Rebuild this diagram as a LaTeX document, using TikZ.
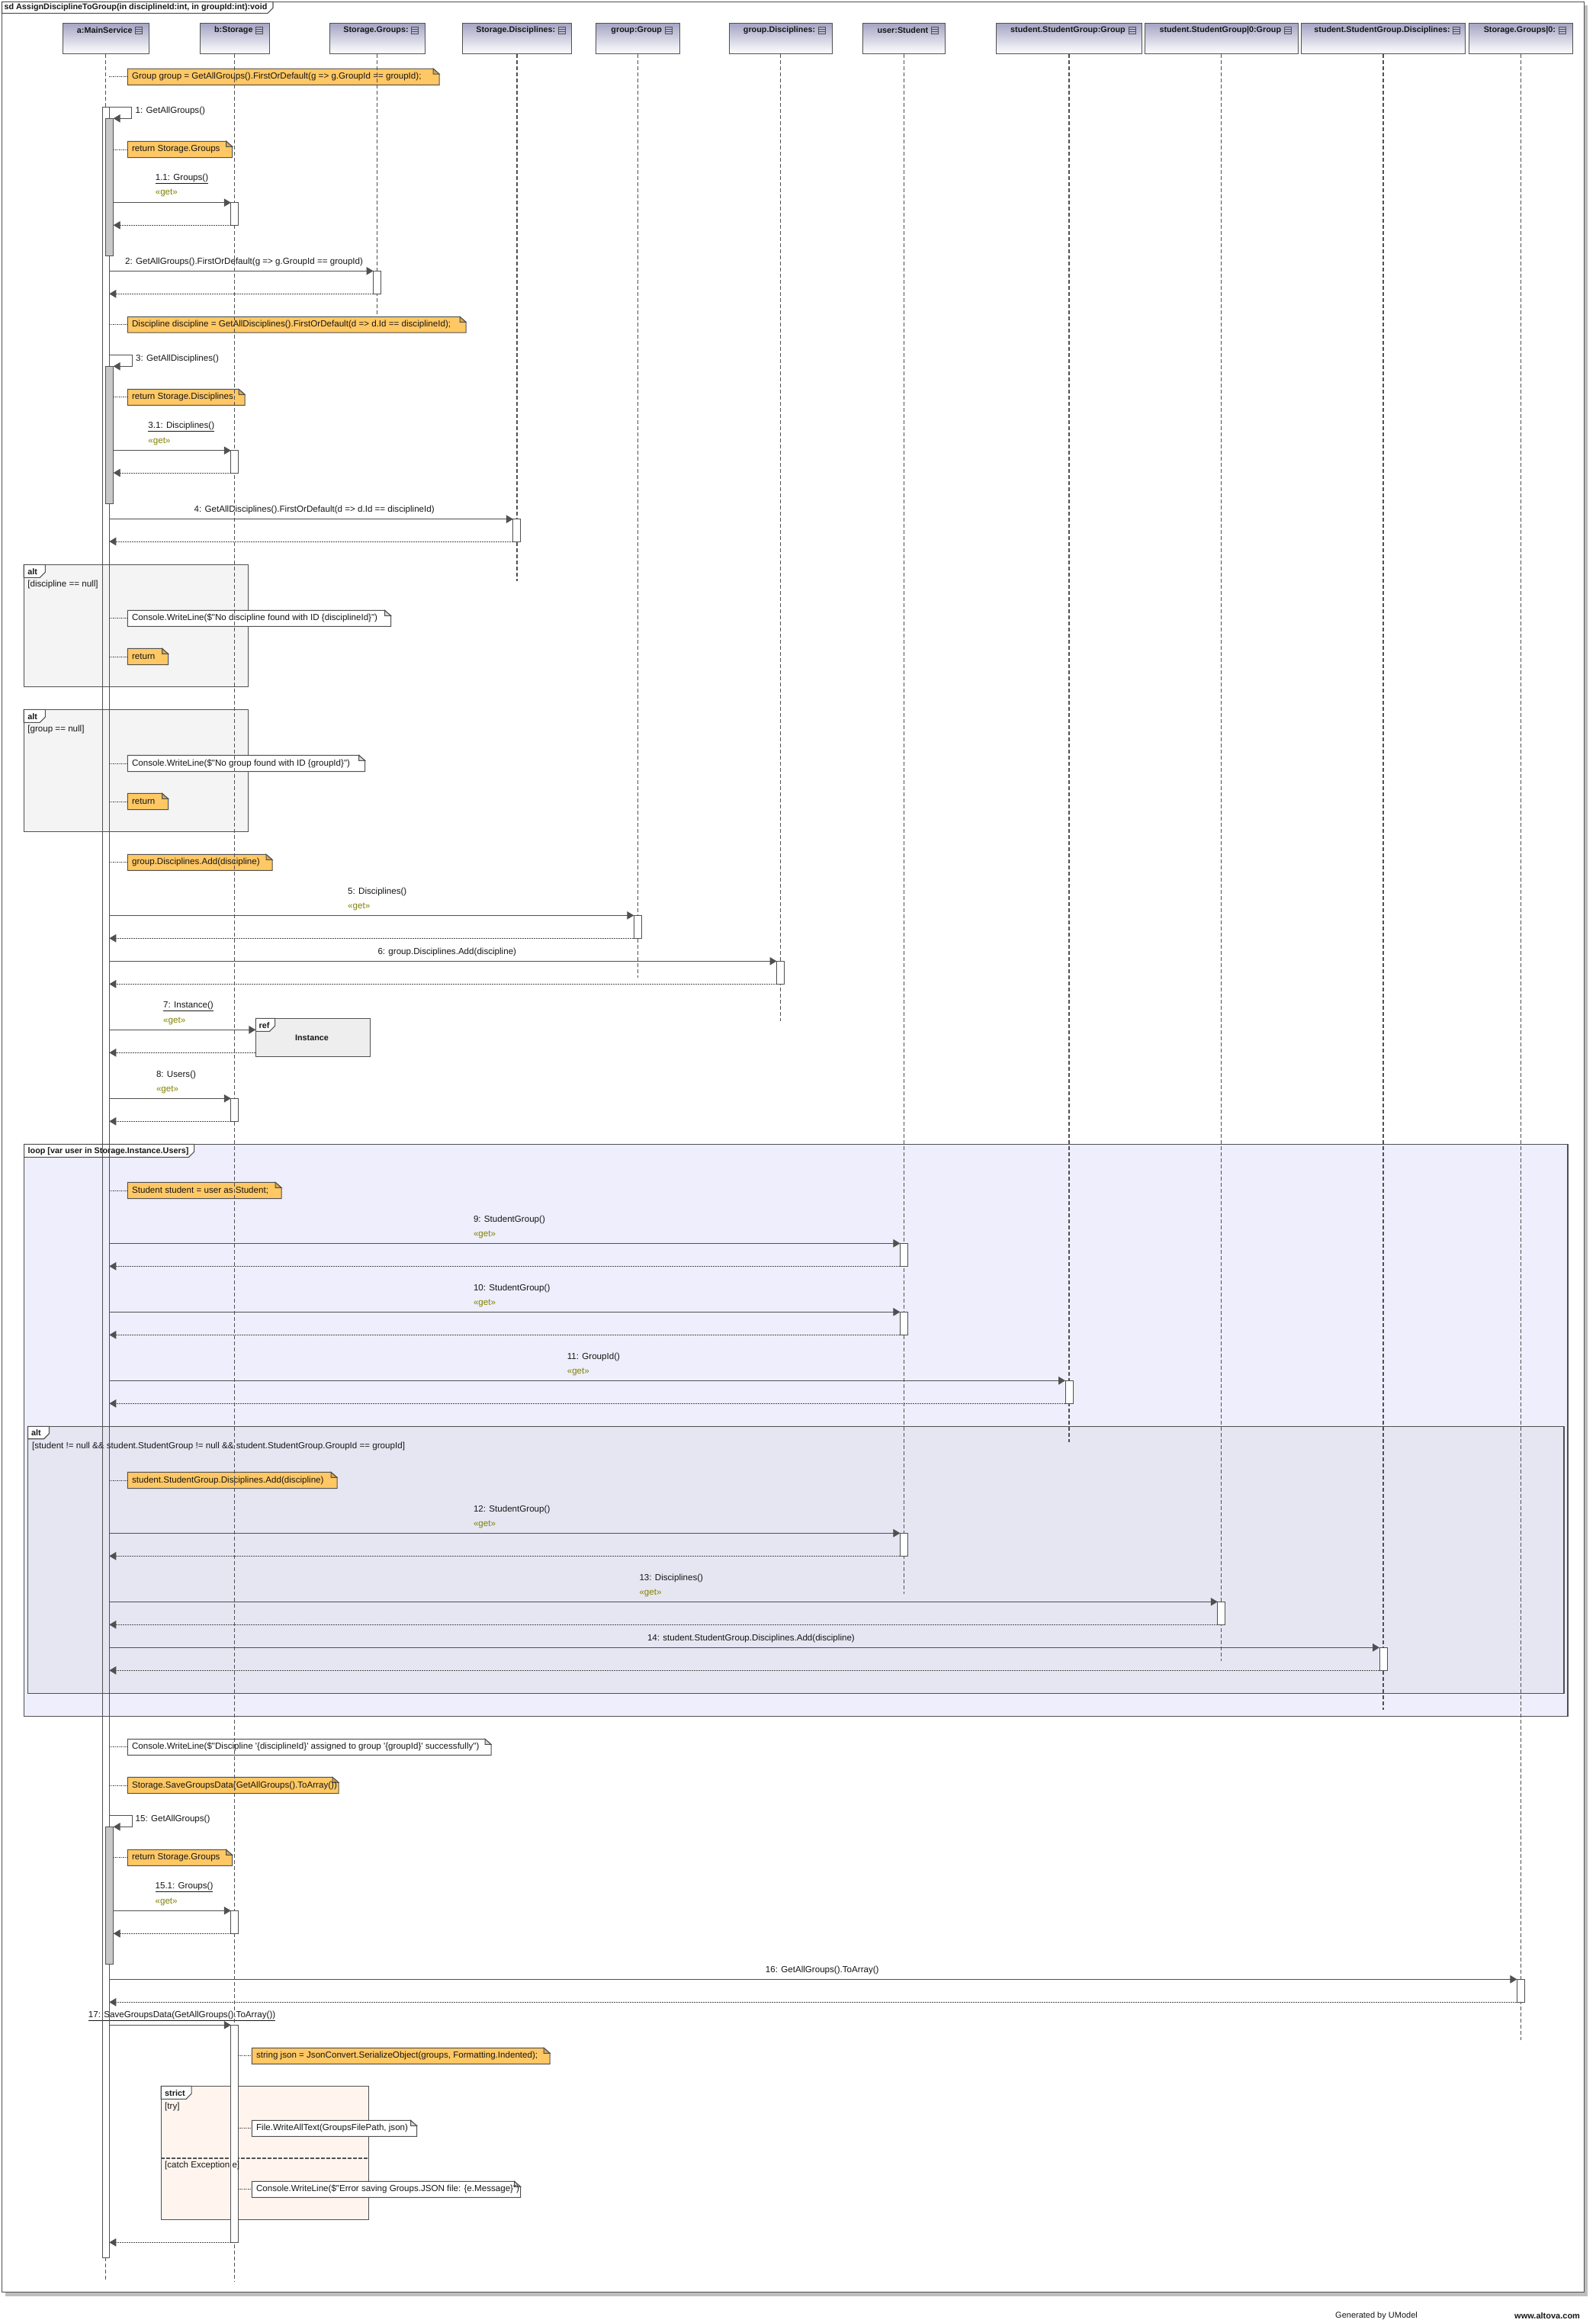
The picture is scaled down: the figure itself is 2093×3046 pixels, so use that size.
\documentclass[tikz,border=0pt]{standalone}
\usepackage{fontspec}
\setmainfont{Liberation Sans}[Ligatures=TeXOff]
\usetikzlibrary{arrows.meta}

\definecolor{ink}{HTML}{505050}
\definecolor{txt}{HTML}{161616}
\definecolor{notefill}{HTML}{FFC864}
\definecolor{notefold}{HTML}{D8A850}
\definecolor{wnotefold}{HTML}{DADADA}
\definecolor{altfill}{HTML}{F4F4F4}
\definecolor{loopfill}{HTML}{EEEEFC}
\definecolor{innerfill}{HTML}{E6E6F3}
\definecolor{reffill}{HTML}{EEEEEE}
\definecolor{strictfill}{HTML}{FFF5EE}
\definecolor{hdrtop}{HTML}{A4A4C4}
\definecolor{barfill}{HTML}{C8C8C8}
\definecolor{getcol}{HTML}{808000}
\definecolor{shadowc}{HTML}{BEBEBE}

% activation box: name, x0, x1, y0, y1
\newcommand{\actbox}[5]{%
  \coordinate (#1-nw) at (#2,#4);
  \coordinate (#1-se) at (#3,#5);
  \filldraw[actline] (#1-nw) rectangle (#1-se);}
% call from the caller edge #1 to activation #2, with its reply
\newcommand{\callret}[2]{%
  \draw[msg] (#1 |- #2-nw) -- (#2-nw);
  \draw[ret] (#2-nw |- #2-se) -- (#1 |- #2-se);}
% self call: name, top y, right x, bottom y
\newcommand{\selfcall}[4]{%
  \coordinate (#1-a) at (143.3,#2);
  \coordinate (#1-b) at (#3,#4);
  \coordinate (#1-c) at (148.7,#4);
  \draw[msg] (#1-a) -| (#1-b) -- (#1-c);}
% note: name, x0, y0, x1, y1, fill, fold fill, text
\newcommand{\seqnote}[8]{%
  \coordinate (#1-w) at (#2,{(#3+#5)/2});
  \filldraw[noteline, fill=#6] (#2,#3) -- ({#4-8},#3) -- (#4,{#3+7}) -- (#4,#5) -- (#2,#5) -- cycle;
  \filldraw[noteline, fill=#7] ({#4-8},#3) -- ({#4-8},{#3+7}) -- (#4,{#3+7}) -- cycle;
  \node[lbl] (#1) at ({#2+5.5},{(#3+#5)/2}) {#8};}
% combined fragment: name, x0, y0, x1, y1, fill, tab right, tab bottom
\newcommand{\fragment}[8]{%
  \coordinate (#1-nw) at (#2,#3);
  \coordinate (#1-se) at (#4,#5);
  \filldraw[frameline, fill=#6] (#1-nw) rectangle (#1-se);
  \filldraw[frameline, fill=white] (#2,#3) -- (#7,#3) -- (#7,{#8-7}) -- ({#7-7},#8) -- (#2,#8) -- cycle;}
% lifeline head: name, centre x, width, end y, text
\newcommand{\lifehead}[5]{%
  \node[hdr, minimum width=#3pt] (h#1) at (#2,50.3) {};
  \node[hdrtext] (t#1) at ({#2-1.5},39.5) {#5};
  \draw[iconline] ([xshift=4pt,yshift=4.5pt]t#1.east) rectangle ++(9,9);
  \draw[iconline] ([xshift=4pt,yshift=1.5pt]t#1.east) -- ++(9,0);
  \draw[iconline] ([xshift=4pt,yshift=-1.5pt]t#1.east) -- ++(9,0);
  \coordinate (end#1) at (#2,#4);}

\begin{document}
\begin{tikzpicture}[x=1pt,y=-1pt,
  lifeline/.style={draw=ink, line width=1.3pt, dash pattern=on 5pt off 3pt},
  msg/.style={draw=ink, line width=1pt, -{Triangle[length=9pt,width=10.5pt]}},
  ret/.style={draw=ink, line width=0.9pt, dash pattern=on 2pt off 1pt, -{Triangle[length=9pt,width=10.5pt]}},
  frameline/.style={draw=ink, line width=1.1pt},
  actline/.style={draw=ink, line width=0.9pt, fill=white},
  noteline/.style={draw=ink, line width=1pt},
  noteconn/.style={draw=ink, line width=0.8pt, dash pattern=on 1.5pt off 1pt},
  iconline/.style={draw=ink, line width=0.8pt},
  hdr/.style={draw=ink, line width=1pt, top color=hdrtop, bottom color=white, minimum height=40pt, inner sep=0pt},
  lbl/.style={anchor=west, inner sep=0pt, text=txt, font=\fontsize{11.6}{13}\selectfont},
  getlbl/.style={lbl, text=getcol},
  boldlbl/.style={anchor=west, inner sep=0pt, text=txt, font=\fontsize{10.8}{13}\selectfont\bfseries},
  hdrtext/.style={boldlbl, anchor=center}]

\useasboundingbox (0,0) rectangle (2093,3046);

% outer sd frame with its shadow
\fill[shadowc] (7,3005.3) rectangle (2082.3,3010.7);
\fill[shadowc] (2077.6,7) rectangle (2082.3,3010.7);
\filldraw[frameline, fill=white] (2.5,2.3) rectangle (2077.6,3005.3);
\filldraw[frameline, fill=white] (2.5,2.3) -- (358,2.3) -- (358,10.3) -- (351,17.3) -- (2.5,17.3) -- cycle;
\node[boldlbl] (title) at (5.4,10.2) {sd AssignDisciplineToGroup(in disciplineId:int, in groupId:int):void};

% lifeline heads
\lifehead{A}{138.75}{113.5}{2991.7}{a:MainService}
\lifehead{B}{307.8}{91.6}{2991.7}{b:Storage}
\lifehead{C}{494.5}{125}{413}{Storage.Groups:}
\lifehead{D}{677.85}{142.3}{761.7}{Storage.Disciplines:}
\lifehead{E}{836.25}{109.5}{1281.7}{group:Group}
\lifehead{F}{1023.5}{135}{1338.7}{group.Disciplines:}
\lifehead{G}{1185.4}{108.2}{2090}{user:Student}
\lifehead{H}{1402}{190.8}{1890.7}{student.StudentGroup:Group}
\lifehead{I}{1601.8}{200.8}{2178.3}{student.StudentGroup|0:Group}
\lifehead{J}{1814}{215.6}{2241.7}{student.StudentGroup.Disciplines:}
\lifehead{K}{1994.35}{135.7}{2675}{Storage.Groups|0:}

% combined fragments
\fragment{alt1}{31.25}{740.3}{325.4}{900.3}{altfill}{59.4}{757.3}
\node[boldlbl] (alt1t) at (36.2,749.3) {alt};
\node[lbl] (alt1g) at (36.2,766) {[discipline == null]};

\fragment{alt2}{31.25}{930.3}{325.4}{1090.3}{altfill}{59.4}{947.3}
\node[boldlbl] (alt2t) at (36.2,939.3) {alt};
\node[lbl] (alt2g) at (36.2,956) {[group == null]};

\fragment{ref}{335.3}{1335.3}{485.4}{1385.3}{reffill}{360.6}{1352.3}
\node[boldlbl] (reft) at (339.5,1344.3) {ref};
\node[hdrtext] (refi) at (409,1361.3) {Instance};

\fragment{loop}{31.6}{1500.3}{2056}{2250.3}{loopfill}{254.6}{1517.3}
\node[boldlbl] (loopt) at (36.5,1509.3) {loop [var user in Storage.Instance.Users]};

\fragment{alt3}{36.5}{1870.3}{2051}{2220.3}{innerfill}{64.5}{1886.7}
\node[boldlbl] (alt3t) at (41,1878.8) {alt};
\node[lbl] (alt3g) at (42,1896) {[student != null \&\& student.StudentGroup != null \&\& student.StudentGroup.GroupId == groupId]};

\fragment{strict}{211.2}{2735.3}{483.3}{2910.3}{strictfill}{251.1}{2752.3}
\node[boldlbl] (strictt) at (216,2744.3) {strict};
\node[lbl] (tryg) at (216,2762) {[try]};
\draw[draw=ink, line width=1.5pt, dash pattern=on 5pt off 2pt] (211.2,2830) -- (483.3,2830);

% notes
\seqnote{n1}{167.4}{90}{576}{111.3}{notefill}{notefold}{Group group = GetAllGroups().FirstOrDefault(g => g.GroupId == groupId);}
\seqnote{n2}{167.4}{185.3}{304.7}{206.7}{notefill}{notefold}{return Storage.Groups}
\seqnote{n3}{167.4}{415.3}{611}{436}{notefill}{notefold}{Discipline discipline = GetAllDisciplines().FirstOrDefault(d => d.Id == disciplineId);}
\seqnote{n4}{167.4}{510.3}{321}{531.3}{notefill}{notefold}{return Storage.Disciplines}
\seqnote{n5}{167.4}{800.3}{512.5}{821.3}{white}{wnotefold}{Console.WriteLine(\$"No discipline found with ID \{disciplineId\}")}
\seqnote{n6}{167.4}{850.3}{220.5}{871.7}{notefill}{notefold}{return}
\seqnote{n7}{167.4}{990.3}{478.6}{1011.7}{white}{wnotefold}{Console.WriteLine(\$"No group found with ID \{groupId\}")}
\seqnote{n8}{167.4}{1040.3}{220.5}{1061.7}{notefill}{notefold}{return}
\seqnote{n9}{167.4}{1120.3}{357}{1141.3}{notefill}{notefold}{group.Disciplines.Add(discipline)}
\seqnote{n10}{167.4}{1550.3}{369}{1571.7}{notefill}{notefold}{Student student = user as Student;}
\seqnote{n11}{167.4}{1930.3}{442}{1951.7}{notefill}{notefold}{student.StudentGroup.Disciplines.Add(discipline)}
\seqnote{n12}{167.4}{2280.3}{644}{2301.3}{white}{wnotefold}{Console.WriteLine(\$"Discipline '\{disciplineId\}' assigned to group '\{groupId\}' successfully")}
\seqnote{n13}{167.4}{2330.3}{444}{2351.7}{notefill}{notefold}{Storage.SaveGroupsData(GetAllGroups().ToArray())}
\seqnote{n14}{167.4}{2425.3}{304.5}{2446.3}{notefill}{notefold}{return Storage.Groups}
\seqnote{n15}{330.4}{2685.3}{721.2}{2706.3}{notefill}{notefold}{string json = JsonConvert.SerializeObject(groups, Formatting.Indented);}
\seqnote{n16}{330.4}{2780.3}{546.5}{2801.3}{white}{wnotefold}{File.WriteAllText(GroupsFilePath, json)}
\seqnote{n17}{330.4}{2860.3}{682.6}{2881.3}{white}{wnotefold}{Console.WriteLine(\$"Error saving Groups.JSON file: \{e.Message\}")}

% message labels
\node[lbl] (m1) at (177.5,145.3) {1: GetAllGroups()};
\node[lbl] (m11) at (203.6,234.3) {\underline{1.1: Groups()}};
\node[getlbl] (m11g) at (203.6,253.3) {«get»};
\node[lbl] (m2) at (164,343.3) {2: GetAllGroups().FirstOrDefault(g => g.GroupId == groupId)};
\node[lbl] (m3) at (178,470.3) {3: GetAllDisciplines()};
\node[lbl] (m31) at (194.2,559.3) {\underline{3.1: Disciplines()}};
\node[getlbl] (m31g) at (194.2,578.7) {«get»};
\node[lbl] (m4) at (254.5,668.3) {4: GetAllDisciplines().FirstOrDefault(d => d.Id == disciplineId)};
\node[lbl] (m5) at (456,1169.3) {5: Disciplines()};
\node[getlbl] (m5g) at (456,1188.7) {«get»};
\node[lbl] (m6) at (495.3,1248.3) {6: group.Disciplines.Add(discipline)};
\node[lbl] (m7) at (214,1319.3) {\underline{7: Instance()}};
\node[getlbl] (m7g) at (214,1338.7) {«get»};
\node[lbl] (m8) at (204.8,1409.7) {8: Users()};
\node[getlbl] (m8g) at (204.8,1429) {«get»};
\node[lbl] (m9) at (620.8,1599.3) {9: StudentGroup()};
\node[getlbl] (m9g) at (620.8,1618.7) {«get»};
\node[lbl] (m10) at (620.8,1689.3) {10: StudentGroup()};
\node[getlbl] (m10g) at (620.8,1708.7) {«get»};
\node[lbl] (m11x) at (743.6,1779.3) {11: GroupId()};
\node[getlbl] (m11xg) at (743.6,1798.7) {«get»};
\node[lbl] (m12) at (620.8,1979.3) {12: StudentGroup()};
\node[getlbl] (m12g) at (620.8,1998.7) {«get»};
\node[lbl] (m13) at (838.3,2069.3) {13: Disciplines()};
\node[getlbl] (m13g) at (838.3,2088.7) {«get»};
\node[lbl] (m14) at (848.8,2148.3) {14: student.StudentGroup.Disciplines.Add(discipline)};
\node[lbl] (m15) at (177.5,2385.3) {15: GetAllGroups()};
\node[lbl] (m151) at (203.4,2474.3) {\underline{15.1: Groups()}};
\node[getlbl] (m151g) at (203.4,2493.7) {«get»};
\node[lbl] (m16) at (1003.7,2583) {16: GetAllGroups().ToArray()};
\node[lbl] (m17) at (115.7,2643.3) {\underline{17: SaveGroupsData(GetAllGroups().ToArray())}};

% execution bar of a:MainService (outline only) and lifelines
\coordinate (mainTop) at (134,140.3);
\coordinate (mainBot) at (143.3,2960.3);
\draw[lifeline] (hA.south) -- (hA.south |- mainTop);
\draw[lifeline] (hA.south |- mainBot) -- (endA);
\foreach \l in {B,C,D,E,F,G,H,I,J,K}
  \draw[lifeline] (h\l.south) -- (end\l);
\draw[draw=ink, line width=0.9pt] (mainTop) rectangle (mainBot);
\coordinate (mE) at (143.3,0);
\coordinate (gE) at (148.7,0);
\filldraw[actline, fill=barfill] (138.6,155.3) coordinate (gb1) rectangle (148.7,335);
\filldraw[actline, fill=barfill] (138.6,480.3) coordinate (gb3) rectangle (148.7,660);
\filldraw[actline, fill=barfill] (138.6,2395.3) coordinate (gb15) rectangle (148.7,2575);

% note anchors
\foreach \n in {n1,n3,n5,n6,n7,n8,n9,n10,n11,n12,n13}
  \draw[noteconn] (mE |- \n-w) -- (\n-w);
\foreach \n in {n2,n4,n14}
  \draw[noteconn] (gE |- \n-w) -- (\n-w);
\coordinate (sE) at (312.8,0);
\foreach \n in {n15,n16,n17}
  \draw[noteconn] (sE |- \n-w) -- (\n-w);

% self calls
\selfcall{s1}{140.3}{172.8}{155.3}
\selfcall{s3}{465.7}{173.2}{480.3}
\selfcall{s15}{2380.3}{173.3}{2395.3}

% activations and calls
\actbox{a11}{302.8}{312.8}{265.7}{295.3}
\callret{gE}{a11}
\actbox{a2}{489.5}{499.5}{355.3}{385.3}
\callret{mE}{a2}
\actbox{a31}{302.8}{312.8}{590.7}{620}
\callret{gE}{a31}
\actbox{a4}{672.85}{682.85}{680.7}{710}
\callret{mE}{a4}
\actbox{a5}{831.25}{841.25}{1200.3}{1230.3}
\callret{mE}{a5}
\actbox{a6}{1018.5}{1028.5}{1260.3}{1290.3}
\callret{mE}{a6}
\coordinate (refIn) at (335.3,1350.3);
\coordinate (refOut) at (335.3,1380.3);
\draw[msg] (mE |- refIn) -- (refIn);
\draw[ret] (refOut) -- (mE |- refOut);
\actbox{a8}{302.8}{312.8}{1440.3}{1470.3}
\callret{mE}{a8}
\actbox{a9}{1180.4}{1190.4}{1630.3}{1660.3}
\callret{mE}{a9}
\actbox{a10}{1180.4}{1190.4}{1720.3}{1750.3}
\callret{mE}{a10}
\actbox{a11x}{1397}{1407}{1810.3}{1840.3}
\callret{mE}{a11x}
\actbox{a12}{1180.4}{1190.4}{2010.3}{2040.3}
\callret{mE}{a12}
\actbox{a13}{1596.8}{1606.8}{2100.3}{2130.3}
\callret{mE}{a13}
\actbox{a14}{1809}{1819}{2160.3}{2190.3}
\callret{mE}{a14}
\actbox{a151}{302.8}{312.8}{2505.3}{2535.3}
\callret{gE}{a151}
\actbox{a16}{1989.35}{1999.35}{2595.3}{2625.3}
\callret{mE}{a16}
\actbox{a17}{302.8}{312.8}{2655.3}{2940.3}
\callret{mE}{a17}
\node[lbl] (catchg) at (216,2839.3) {[catch Exception e]};

% footer
\node[lbl, font=\fontsize{11}{13}\selectfont] (gen) at (1751,3037) {Generated by UModel};
\node[boldlbl, font=\fontsize{11}{13}\selectfont\bfseries] (web) at (1986,3037) {www.altova.com};
\end{tikzpicture}
\end{document}
